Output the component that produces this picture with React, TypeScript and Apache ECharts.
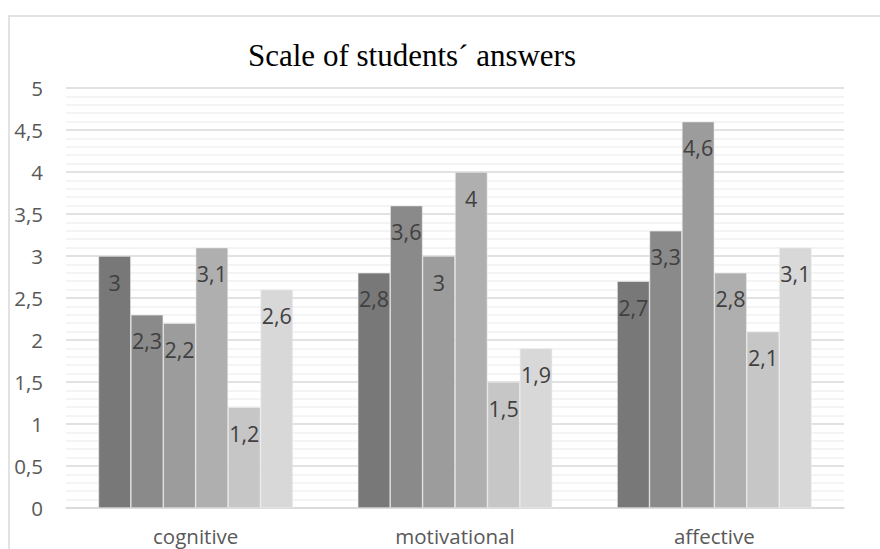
import React, { useEffect, useRef } from "react";
import * as echarts from "echarts";

const categories = ["cognitive", "motivational", "affective"];
const seriesNames = ["Series 1", "Series 2", "Series 3", "Series 4", "Series 5", "Series 6"];
const s1 = [3, 2.8, 2.7];
const s2 = [2.3, 3.6, 3.3];
const s3 = [2.2, 3, 4.6];
const s4 = [3.1, 4, 2.8];
const s5 = [1.2, 1.5, 2.1];
const s6 = [2.6, 1.9, 3.1];
const seriesData = [s1, s2, s3, s4, s5, s6];
const colors = ["#787878", "#8a8a8a", "#9c9c9c", "#afafaf", "#c6c6c6", "#d8d8d8"];
const title = "Scale of students\u00b4 answers";

const comma = (v: number | string) => String(v).replace(".", ",");

export default function App() {
  const ref = useRef<HTMLDivElement>(null);
  useEffect(() => {
    if (!ref.current) return;
    const chart = echarts.init(ref.current, null, { renderer: "svg" });
    const font = "'Open Sans', 'Noto Sans', sans-serif";
    chart.setOption({
      animation: false,
      backgroundColor: "#ffffff",
      color: colors,
      graphic: [
        {
          type: "rect",
          shape: { x: 9, y: 16, width: 1000, height: 700 },
          style: { fill: "none", stroke: "#d9d9d9", lineWidth: 1.5 },
          silent: true,
        },
        {
          type: "text",
          x: 248,
          y: 55,
          style: {
            text: title,
            font: "31px 'Liberation Serif', 'Times New Roman', serif",
            fill: "#000000",
            textAlign: "left",
            textVerticalAlign: "middle",
          },
        },
      ],
      grid: { left: 66, right: 36, top: 88, bottom: 41, containLabel: false },
      xAxis: {
        type: "category",
        data: categories,
        axisTick: { show: false },
        axisLine: { lineStyle: { color: "#d9d9d9", width: 1.5 } },
        axisLabel: {
          color: "#595959",
          fontSize: 20.5,
          lineHeight: 20,
          fontFamily: font,
          margin: 18,
        },
      },
      yAxis: {
        type: "value",
        min: 0,
        max: 5,
        interval: 0.5,
        axisLine: { show: false },
        axisTick: { show: false },
        axisLabel: {
          color: "#595959",
          fontSize: 20.5,
          fontFamily: font,
          margin: 23,
          formatter: (v: number) => comma(v),
        },
        splitLine: { lineStyle: { color: "#d9d9d9", width: 1.5 } },
        minorTick: { show: false, splitNumber: 5 },
        minorSplitLine: { show: true, lineStyle: { color: "#f0f0f0", width: 1.5 } },
      },
      series: seriesData.map((d, i) => ({
        name: seriesNames[i],
        type: "bar",
        data: d,
        barGap: "0%",
        barCategoryGap: "25%",
        itemStyle: { color: colors[i], borderColor: "#ececec", borderWidth: 0.6 },
        label: {
          show: true,
          position: "insideTop",
          distance: 15,
          color: "#404040",
          fontSize: 21.5,
          fontFamily: font,
          formatter: (p: any) => comma(p.value),
        },
      })),
    });
    return () => chart.dispose();
  }, []);
  return (
    <div
      ref={ref}
      style={{ position: "fixed", left: 0, top: 0, width: 880, height: 549 }}
    />
  );
}
